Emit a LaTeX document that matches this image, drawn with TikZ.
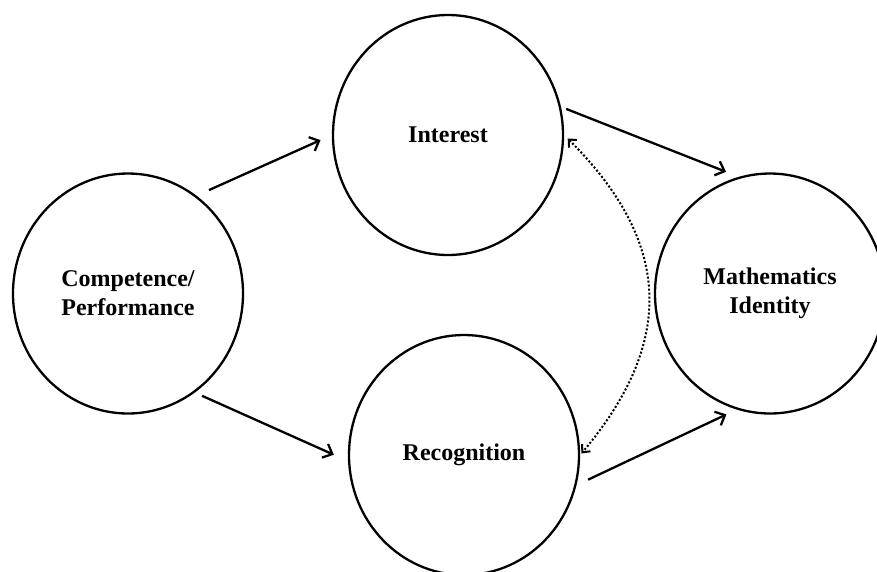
\documentclass[tikz,border=0pt]{standalone}
\usepackage{fontspec}
\setmainfont{Liberation Serif}
\usetikzlibrary{shapes,arrows.meta}
\tikzset{
    factor/.style={
           ellipse,
           draw=black, line width=2.3pt,
           minimum width=230pt,
           minimum height=240pt,
           inner sep=0pt,
           align=center,
           font=\fontsize{24}{29}\selectfont\bfseries
           },
    link/.style={
           line width=2.3pt
           },
    feedback/.style={
           % the two-way dotted link
           line width=2pt,
           dash pattern=on 2pt off 2pt,
           arrows={Straight Barb[length=6pt,width=11pt]-Straight Barb[length=6pt,width=11pt]}
           }
}

\begin{document}
\begin{tikzpicture}[x=1pt, y=1pt, >={Straight Barb[length=8pt,width=15pt]}]
\useasboundingbox (0,0) rectangle (877,-571);
   \node[factor] (comp) at (128,-293.5) {Competence/\\Performance};
   \node[factor] (int) at (448,-135) {Interest};
   \node[factor] (rec) at (464,-455) {Recognition};
   \node[factor] (ident) at (770,-293.5) {Mathematics\\Identity};
   \path[->]
    (comp.55) edge[link, shorten <=13.6pt, shorten >=12.4pt] (int.180)
    (comp.304) edge[link, shorten <=8pt, shorten >=15.5pt] (rec.183)
    (int.14) edge[link, shorten <=5.6pt, shorten >=13.6pt] (ident.105)
    (rec.345) edge[link, shorten <=12.8pt, shorten >=11.4pt] (ident.254);
   \path
    (int.0) edge[feedback, out=-45, in=50, looseness=1.2,
                 shorten <=5pt, shorten >=2pt] (rec.0);
\end{tikzpicture}
\end{document}
